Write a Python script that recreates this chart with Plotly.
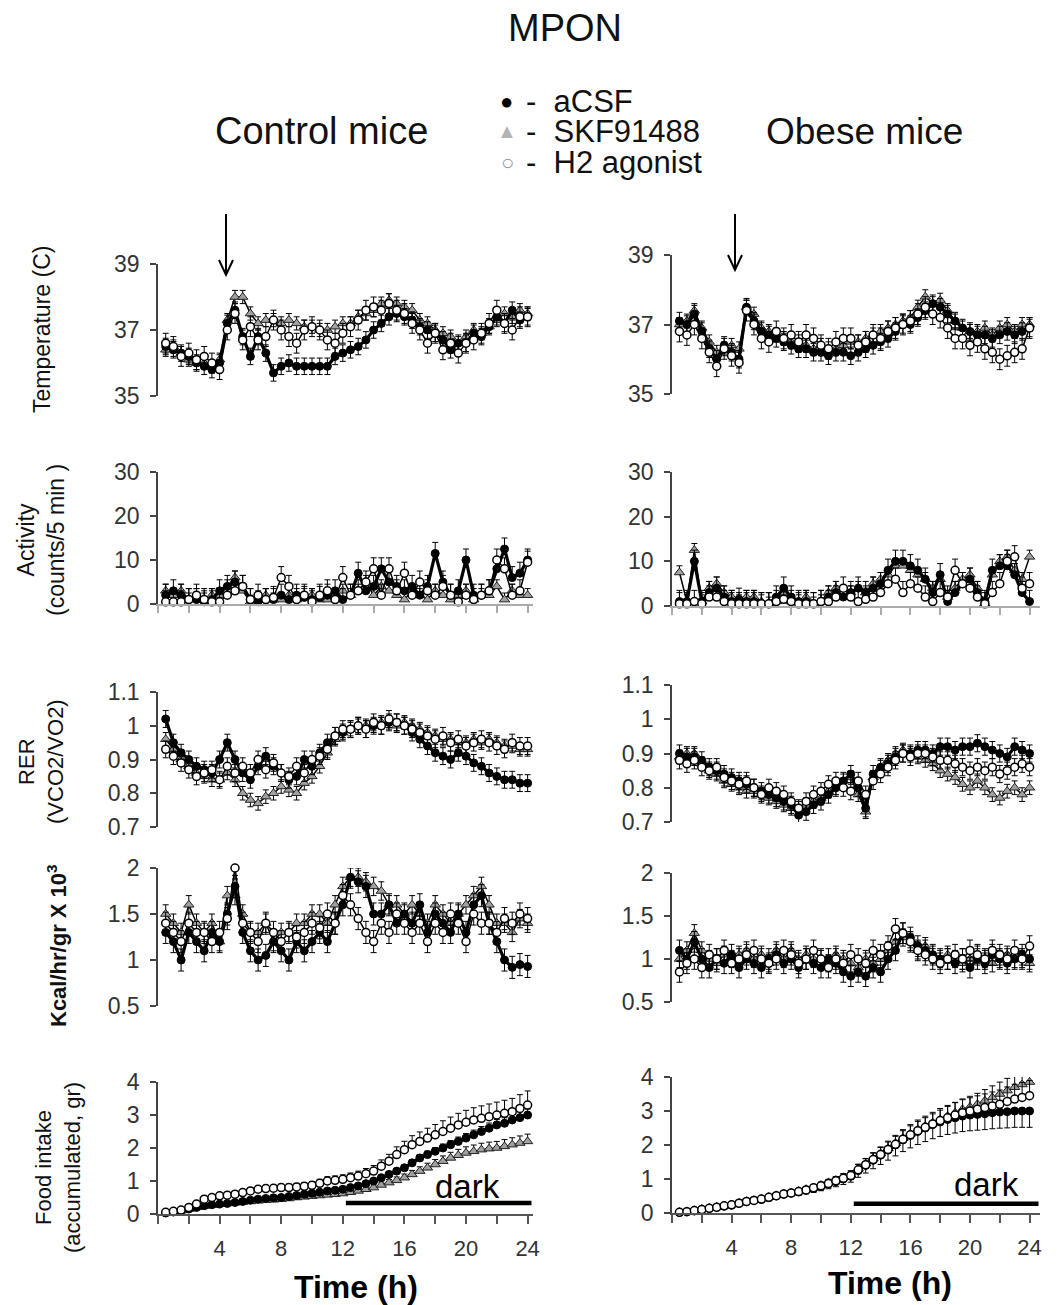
import plotly.graph_objects as go

W, H = 1060, 1305

# ---------------- data ----------------
time_h = [0.5, 1.0, 1.5, 2.0, 2.5, 3.0, 3.5, 4.0,
          4.5, 5.0, 5.5, 6.0, 6.5, 7.0, 7.5, 8.0,
          8.5, 9.0, 9.5, 10.0, 10.5, 11.0, 11.5, 12.0,
          12.5, 13.0, 13.5, 14.0, 14.5, 15.0, 15.5, 16.0,
          16.5, 17.0, 17.5, 18.0, 18.5, 19.0, 19.5, 20.0,
          20.5, 21.0, 21.5, 22.0, 22.5, 23.0, 23.5, 24.0]

series_names = ["aCSF", "SKF91488", "H2 agonist"]
x_tick_vals = [0, 2, 4, 6, 8, 10, 12, 14, 16, 18, 20, 22, 24]
x_tick_labels = ["", "", "4", "", "8", "", "12", "", "16", "", "20", "", "24"]

# Temperature (C)
ctrl_temp_acsf = [36.5, 36.4, 36.3, 36.2, 36.0, 35.9, 35.8, 36.0,
                  37.2, 37.6, 36.8, 36.2, 36.8, 36.3, 35.7, 35.9,
                  36.0, 35.9, 35.9, 35.9, 35.9, 35.9, 36.2, 36.3,
                  36.4, 36.5, 36.7, 37.0, 37.2, 37.4, 37.5, 37.4,
                  37.3, 37.1, 37.0, 36.9, 36.7, 36.4, 36.6, 36.6,
                  36.9, 36.8, 37.1, 37.4, 37.2, 37.6, 37.3, 37.4]
ctrl_temp_skf = [36.4, 36.5, 36.3, 36.1, 36.0, 36.0, 35.9, 36.1,
                 37.3, 38.0, 38.0, 37.5, 37.2, 37.3, 37.3, 37.2,
                 37.3, 37.2, 37.1, 37.1, 37.0, 37.0, 37.1, 37.2,
                 37.2, 37.4, 37.5, 37.6, 37.8, 37.9, 37.8, 37.7,
                 37.6, 37.3, 37.2, 37.0, 36.9, 36.8, 36.6, 36.8,
                 37.0, 36.9, 37.1, 37.3, 37.5, 37.4, 37.6, 37.5]
ctrl_temp_h2 = [36.6, 36.5, 36.2, 36.3, 36.1, 36.2, 36.0, 35.8,
                37.0, 37.5, 36.7, 37.1, 36.7, 36.8, 37.3, 37.0,
                36.8, 36.6, 37.0, 37.1, 37.0, 36.7, 36.6, 36.9,
                37.1, 37.3, 37.6, 37.7, 37.6, 37.8, 37.6, 37.5,
                37.2, 37.0, 36.6, 36.9, 36.4, 36.6, 36.3, 36.6,
                36.7, 36.9, 37.2, 37.6, 37.2, 37.0, 37.4, 37.4]
obese_temp_acsf = [37.1, 37.0, 37.3, 36.8, 36.3, 36.0, 36.4, 36.2,
                   36.0, 37.5, 37.1, 36.8, 36.7, 36.6, 36.5, 36.4,
                   36.3, 36.3, 36.2, 36.2, 36.1, 36.2, 36.2, 36.1,
                   36.2, 36.3, 36.4, 36.5, 36.6, 36.8, 37.0, 37.0,
                   37.2, 37.4, 37.6, 37.5, 37.3, 37.1, 36.9, 36.8,
                   36.7, 36.7, 36.6, 36.7, 36.8, 36.7, 36.8, 36.9]
obese_temp_skf = [37.0, 37.1, 37.4, 36.9, 36.5, 36.2, 36.3, 36.4,
                  36.3, 37.5, 37.3, 36.9, 36.8, 36.7, 36.6, 36.5,
                  36.5, 36.4, 36.3, 36.4, 36.3, 36.3, 36.4, 36.5,
                  36.5, 36.6, 36.7, 36.8, 36.9, 37.0, 37.1, 37.2,
                  37.5, 37.8, 37.6, 37.7, 37.4, 37.1, 36.9, 36.8,
                  36.8, 36.9, 36.7, 36.9, 37.0, 36.8, 37.0, 37.0]
obese_temp_h2 = [36.8, 36.7, 37.0, 36.6, 36.2, 35.8, 36.3, 36.1,
                 35.9, 37.4, 37.0, 36.6, 36.5, 36.8, 36.6, 36.7,
                 36.5, 36.7, 36.6, 36.4, 36.3, 36.5, 36.6, 36.6,
                 36.4, 36.5, 36.7, 36.6, 36.8, 36.9, 37.0, 37.1,
                 37.3, 37.5, 37.3, 37.2, 36.9, 36.6, 36.6, 36.4,
                 36.5, 36.3, 36.2, 36.0, 36.1, 36.2, 36.3, 36.9]

# Activity (counts/5 min)
ctrl_act_acsf = [2, 3, 2, 1, 1, 0.5, 1, 3,
                 4, 5, 4, 1, 0.5, 1, 1, 2,
                 1, 2, 1.5, 1, 1.5, 2, 3, 1,
                 2, 7, 3, 4, 8, 5, 4, 3,
                 4, 2, 4, 11.5, 5, 2, 3, 10,
                 2, 2, 3, 8, 12.5, 6, 7, 10]
ctrl_act_skf = [3, 2, 3, 1, 2, 1, 2, 2,
                4, 6, 3, 0.5, 1, 2, 1, 1,
                2, 1, 2, 2, 1, 1, 2, 3,
                2, 3, 5, 2, 4, 3, 2, 1,
                3, 2, 1, 3, 2, 1, 2, 3,
                1, 2, 2, 4, 1, 3, 2, 2]
ctrl_act_h2 = [0.5, 0.5, 0.5, 1, 2, 1, 0.5, 0.5,
               2, 3, 4, 1, 2, 1, 1.5, 6,
               4, 1, 2, 0.5, 2, 3, 1, 6,
               2, 3, 5, 8, 2, 8, 3, 7,
               2, 5, 3, 2, 4, 2, 0.5, 2,
               1, 2, 3, 10, 8, 2, 3, 9.5]
obese_act_acsf = [1, 1, 10, 1, 3, 4, 2, 1,
                  1.5, 1, 1, 0.5, 0.5, 2, 4, 2,
                  1, 1, 0.5, 1, 2, 3, 2, 3,
                  4, 3, 4, 5, 8, 10, 10, 9,
                  8, 6, 3, 7, 1, 3, 5, 6,
                  3, 1, 8, 9, 9, 7, 3, 1]
obese_act_skf = [7.5, 1, 12.5, 1, 4, 5, 3, 2,
                 1, 2, 2, 1, 0.5, 1, 3, 1,
                 1, 2, 0.5, 1, 3, 4, 2, 3,
                 4, 3, 5, 6, 7, 9, 9, 8,
                 7, 6, 4, 6, 2, 4, 6, 7,
                 4, 0.5, 7, 10, 11, 8, 6, 11]
obese_act_h2 = [0.5, 0.5, 1, 0.5, 2, 2, 1, 0.5,
                0.5, 0.5, 0.5, 0.5, 0.5, 1, 1.5, 1,
                0.5, 0.5, 0.5, 1, 1, 2, 4, 2,
                1, 1.5, 2, 3, 5, 6, 3, 5,
                4, 2, 1, 3, 2, 8, 5, 4,
                2, 0.5, 3, 5, 10, 11, 4, 5]

# RER (VCO2/VO2)
ctrl_rer_acsf = [1.02, 0.95, 0.92, 0.90, 0.88, 0.87, 0.86, 0.90,
                 0.95, 0.90, 0.86, 0.84, 0.88, 0.91, 0.88, 0.86,
                 0.84, 0.85, 0.90, 0.88, 0.92, 0.95, 0.97, 0.98,
                 0.99, 1.00, 0.99, 1.00, 1.00, 1.01, 1.01, 1.00,
                 0.98, 0.96, 0.94, 0.92, 0.91, 0.90, 0.92, 0.91,
                 0.89, 0.88, 0.86, 0.85, 0.84, 0.84, 0.83, 0.83]
ctrl_rer_skf = [0.96, 0.93, 0.90, 0.88, 0.86, 0.85, 0.84, 0.84,
                0.86, 0.84, 0.80, 0.78, 0.77, 0.79, 0.80, 0.82,
                0.81, 0.80, 0.83, 0.85, 0.88, 0.92, 0.96, 0.98,
                0.99, 1.00, 1.00, 1.00, 1.01, 1.01, 1.00, 1.01,
                1.00, 0.99, 0.98, 0.97, 0.96, 0.96, 0.95, 0.95,
                0.96, 0.95, 0.96, 0.95, 0.94, 0.94, 0.93, 0.93]
ctrl_rer_h2 = [0.93, 0.91, 0.89, 0.87, 0.85, 0.86, 0.87, 0.84,
               0.88, 0.86, 0.88, 0.86, 0.90, 0.87, 0.89, 0.86,
               0.85, 0.88, 0.86, 0.90, 0.91, 0.93, 0.97, 0.99,
               0.99, 1.00, 0.99, 1.01, 1.00, 1.02, 1.01, 1.00,
               0.99, 0.98, 0.97, 0.96, 0.97, 0.95, 0.96, 0.94,
               0.95, 0.96, 0.95, 0.94, 0.93, 0.95, 0.94, 0.94]
obese_rer_acsf = [0.90, 0.89, 0.89, 0.88, 0.86, 0.85, 0.84, 0.83,
                  0.82, 0.81, 0.80, 0.79, 0.78, 0.77, 0.76, 0.75,
                  0.72, 0.73, 0.75, 0.76, 0.78, 0.80, 0.82, 0.84,
                  0.80, 0.74, 0.84, 0.86, 0.87, 0.89, 0.90, 0.90,
                  0.91, 0.91, 0.90, 0.92, 0.92, 0.91, 0.92, 0.92,
                  0.93, 0.92, 0.91, 0.90, 0.89, 0.92, 0.91, 0.90]
obese_rer_skf = [0.89, 0.90, 0.90, 0.87, 0.85, 0.84, 0.82, 0.81,
                 0.80, 0.79, 0.79, 0.78, 0.77, 0.76, 0.75, 0.74,
                 0.74, 0.75, 0.76, 0.77, 0.79, 0.80, 0.82, 0.83,
                 0.78, 0.73, 0.83, 0.86, 0.88, 0.90, 0.91, 0.90,
                 0.89, 0.88, 0.87, 0.85, 0.84, 0.83, 0.81, 0.80,
                 0.82, 0.80, 0.78, 0.77, 0.79, 0.80, 0.78, 0.80]
obese_rer_h2 = [0.88, 0.87, 0.88, 0.86, 0.85, 0.86, 0.83, 0.82,
                0.81, 0.82, 0.80, 0.78, 0.80, 0.79, 0.78, 0.76,
                0.74, 0.76, 0.78, 0.79, 0.81, 0.82, 0.80, 0.79,
                0.82, 0.78, 0.82, 0.84, 0.86, 0.88, 0.90, 0.89,
                0.90, 0.90, 0.89, 0.88, 0.88, 0.87, 0.86, 0.85,
                0.86, 0.85, 0.86, 0.84, 0.85, 0.86, 0.87, 0.86]

# Kcal/hr/gr x 10^3
ctrl_kcal_acsf = [1.3, 1.2, 1.0, 1.3, 1.2, 1.1, 1.3, 1.2,
                  1.5, 1.8, 1.3, 1.1, 1.0, 1.05, 1.2, 1.1,
                  1.0, 1.2, 1.1, 1.2, 1.3, 1.2, 1.4, 1.6,
                  1.9, 1.85, 1.8, 1.5, 1.5, 1.6, 1.4, 1.5,
                  1.4, 1.6, 1.3, 1.5, 1.4, 1.3, 1.5, 1.3,
                  1.6, 1.7, 1.4, 1.2, 1.0, 0.92, 0.95, 0.93]
ctrl_kcal_skf = [1.5, 1.4, 1.3, 1.6, 1.4, 1.3, 1.4, 1.2,
                 1.7, 1.7, 1.5, 1.3, 1.3, 1.4, 1.2, 1.3,
                 1.3, 1.4, 1.4, 1.5, 1.5, 1.4, 1.6, 1.8,
                 1.9, 1.9, 1.85, 1.8, 1.75, 1.6, 1.6, 1.5,
                 1.6, 1.5, 1.4, 1.6, 1.5, 1.4, 1.5, 1.6,
                 1.7, 1.8, 1.6, 1.4, 1.4, 1.3, 1.45, 1.4]
ctrl_kcal_h2 = [1.4, 1.3, 1.2, 1.4, 1.3, 1.3, 1.2, 1.3,
                1.45, 2.0, 1.4, 1.3, 1.2, 1.4, 1.3, 1.2,
                1.3, 1.25, 1.3, 1.4, 1.35, 1.5, 1.4, 1.7,
                1.6, 1.45, 1.3, 1.2, 1.4, 1.3, 1.5, 1.4,
                1.3, 1.4, 1.2, 1.4, 1.3, 1.5, 1.4, 1.2,
                1.5, 1.4, 1.4, 1.3, 1.45, 1.4, 1.5, 1.45]
obese_kcal_acsf = [1.1, 1.0, 1.2, 1.0, 0.9, 1.0, 0.95, 1.05,
                   0.9, 1.0, 0.95, 0.9, 1.0, 1.05, 0.95, 1.0,
                   0.9, 1.0, 0.95, 0.9, 1.0, 0.95, 0.85, 0.8,
                   0.85, 0.8, 0.9, 0.85, 1.0, 1.1, 1.3, 1.25,
                   1.15, 1.1, 1.05, 1.0, 1.0, 0.95, 1.0, 0.9,
                   1.0, 0.95, 1.05, 1.0, 0.95, 1.0, 1.05, 1.0]
obese_kcal_skf = [1.0, 1.1, 1.3, 1.1, 1.0, 0.95, 1.05, 1.0,
                  1.05, 1.1, 1.0, 1.05, 0.95, 1.1, 1.0, 1.1,
                  1.0, 1.05, 1.0, 1.0, 0.95, 1.05, 1.0, 0.95,
                  0.9, 1.0, 0.95, 1.0, 1.1, 1.2, 1.25, 1.2,
                  1.1, 1.15, 1.05, 1.0, 1.05, 1.0, 0.95, 1.0,
                  1.05, 1.0, 0.95, 1.0, 1.05, 1.0, 1.0, 0.95]
obese_kcal_h2 = [0.85, 0.95, 1.0, 0.9, 1.05, 1.0, 1.1, 0.95,
                 1.0, 1.05, 1.1, 1.0, 0.95, 1.0, 1.1, 1.05,
                 0.95, 1.0, 1.1, 1.0, 0.9, 1.0, 0.95, 1.05,
                 1.0, 0.95, 1.1, 1.05, 1.15, 1.35, 1.3, 1.2,
                 1.1, 1.05, 1.0, 0.95, 1.0, 1.05, 1.0, 1.1,
                 1.05, 1.0, 1.1, 1.05, 1.0, 1.1, 1.0, 1.15]

# Food intake (accumulated, gr)
ctrl_food_acsf = [0.03, 0.06, 0.1, 0.15, 0.2, 0.25, 0.28, 0.3,
                  0.32, 0.35, 0.38, 0.42, 0.45, 0.47, 0.49, 0.5,
                  0.53, 0.56, 0.6, 0.63, 0.66, 0.7, 0.72, 0.75,
                  0.8, 0.85, 0.92, 1.0, 1.1, 1.2, 1.3, 1.4,
                  1.55, 1.7, 1.8, 1.9, 2.0, 2.1, 2.2, 2.3,
                  2.4, 2.5, 2.6, 2.7, 2.75, 2.85, 2.92, 3.0]
ctrl_food_skf = [0.04, 0.07, 0.1, 0.15, 0.2, 0.24, 0.27, 0.3,
                 0.32, 0.34, 0.36, 0.38, 0.4, 0.42, 0.43, 0.45,
                 0.47, 0.5, 0.52, 0.54, 0.56, 0.58, 0.6, 0.62,
                 0.66, 0.7, 0.75, 0.8, 0.88, 0.95, 1.02, 1.1,
                 1.2, 1.3, 1.4, 1.5, 1.6, 1.7, 1.78, 1.85,
                 1.9, 1.95, 1.98, 2.0, 2.05, 2.1, 2.15, 2.2]
ctrl_food_h2 = [0.05, 0.08, 0.12, 0.2, 0.3, 0.45, 0.5, 0.55,
                0.57, 0.6, 0.65, 0.7, 0.75, 0.77, 0.78, 0.8,
                0.8, 0.82, 0.84, 0.87, 0.93, 1.0, 1.02, 1.05,
                1.1, 1.15, 1.22, 1.3, 1.45, 1.6, 1.8, 1.95,
                2.1, 2.2, 2.3, 2.4, 2.5, 2.6, 2.7, 2.78,
                2.85, 2.9, 2.95, 3.0, 3.05, 3.1, 3.2, 3.3]
obese_food_acsf = [0.02, 0.04, 0.06, 0.1, 0.13, 0.16, 0.2, 0.23,
                   0.28, 0.33, 0.37, 0.4, 0.45, 0.5, 0.55, 0.58,
                   0.62, 0.67, 0.72, 0.78, 0.85, 0.92, 1.0, 1.08,
                   1.25, 1.4, 1.55, 1.7, 1.85, 2.0, 2.15, 2.28,
                   2.4, 2.5, 2.6, 2.68, 2.75, 2.8, 2.85, 2.88,
                   2.9, 2.92, 2.95, 2.97, 2.98, 3.0, 3.0, 3.0]
obese_food_skf = [0.03, 0.05, 0.08, 0.12, 0.15, 0.18, 0.22, 0.25,
                  0.3, 0.35, 0.38, 0.42, 0.47, 0.52, 0.57, 0.6,
                  0.65, 0.7, 0.75, 0.82, 0.9, 0.97, 1.05, 1.12,
                  1.3, 1.45, 1.6, 1.75, 1.9, 2.05, 2.2, 2.33,
                  2.45, 2.55, 2.65, 2.75, 2.85, 2.95, 3.05, 3.12,
                  3.2, 3.3, 3.4, 3.5, 3.6, 3.7, 3.78, 3.85]
obese_food_h2 = [0.02, 0.04, 0.07, 0.1, 0.14, 0.17, 0.21, 0.24,
                 0.29, 0.34, 0.37, 0.41, 0.46, 0.51, 0.56, 0.59,
                 0.63, 0.68, 0.74, 0.8, 0.87, 0.95, 1.02, 1.1,
                 1.27, 1.42, 1.57, 1.72, 1.87, 2.02, 2.17, 2.3,
                 2.42, 2.52, 2.62, 2.72, 2.8, 2.88, 2.95, 3.0,
                 3.05, 3.1, 3.15, 3.2, 3.28, 3.35, 3.4, 3.45]

# ---------------- layout helpers ----------------
def fx(px):
    return px / W

def fy(py):
    return 1 - py / H

cols = {
    "L": dict(x0=158, x1=533, xmax=24.35, dark_x=20.1, bar_y=0.33),
    "R": dict(x0=672, x1=1040, xmax=24.7, dark_x=21.1, bar_y=0.27),
}

panels = [
    ("L", "temp", [ctrl_temp_acsf, ctrl_temp_skf, ctrl_temp_h2], 264, 396),
    ("R", "temp", [obese_temp_acsf, obese_temp_skf, obese_temp_h2], 255, 394),
    ("L", "act", [ctrl_act_acsf, ctrl_act_skf, ctrl_act_h2], 472, 604),
    ("R", "act", [obese_act_acsf, obese_act_skf, obese_act_h2], 472, 606),
    ("L", "rer", [ctrl_rer_acsf, ctrl_rer_skf, ctrl_rer_h2], 692, 827),
    ("R", "rer", [obese_rer_acsf, obese_rer_skf, obese_rer_h2], 685, 822),
    ("L", "kcal", [ctrl_kcal_acsf, ctrl_kcal_skf, ctrl_kcal_h2], 868, 1006),
    ("R", "kcal", [obese_kcal_acsf, obese_kcal_skf, obese_kcal_h2], 873, 1002),
    ("L", "food", [ctrl_food_acsf, ctrl_food_skf, ctrl_food_h2], 1082, 1214),
    ("R", "food", [obese_food_acsf, obese_food_skf, obese_food_h2], 1077, 1213),
]

kind_axis = {
    "temp": dict(range=[35, 39], tickvals=[35, 37, 39], ticktext=["35", "37", "39"]),
    "act": dict(range=[0, 30], tickvals=[0, 10, 20, 30], ticktext=["0", "10", "20", "30"]),
    "rer": dict(range=[0.7, 1.1], tickvals=[0.7, 0.8, 0.9, 1.0, 1.1],
                ticktext=["0.7", "0.8", "0.9", "1", "1.1"]),
    "kcal": dict(range=[0.5, 2], tickvals=[0.5, 1, 1.5, 2], ticktext=["0.5", "1", "1.5", "2"]),
    "food": dict(range=[0, 4], tickvals=[0, 1, 2, 3, 4], ticktext=["0", "1", "2", "3", "4"]),
}

def err_style(kind, col, s):
    base = dict(color="black", thickness=1, width=3, visible=True)
    if kind == "temp":
        base.update(type="constant", value=[0.25, 0.2, 0.3][s])
    elif kind == "act":
        base.update(type="constant", value=[2.5, 1.5, 2.5][s], symmetric=False, valueminus=0)
    elif kind == "rer":
        base.update(type="constant", value=[0.025, 0.02, 0.025][s])
    elif kind == "kcal":
        base.update(type="constant", value=[0.12, 0.1, 0.12][s])
    else:
        if col == "R" and s == 0:
            base.update(type="percent", value=0, symmetric=False, valueminus=16)
        else:
            base.update(type="percent", value=[6, 10, 13][s], symmetric=False, valueminus=0)
    return base

styles = [
    dict(marker=dict(symbol="circle", size=8, color="black", line=dict(color="black", width=1)),
         line=dict(color="black", width=3.2)),
    dict(marker=dict(symbol="triangle-up", size=9, color="#a0a0a0", line=dict(color="#222", width=1)),
         line=dict(color="black", width=1.5)),
    dict(marker=dict(symbol="circle", size=8, color="white", line=dict(color="black", width=1.5)),
         line=dict(color="black", width=1.5)),
]

fig = go.Figure()
layout = dict(
    width=W, height=H,
    margin=dict(l=0, r=0, t=0, b=0, autoexpand=False),
    paper_bgcolor="white", plot_bgcolor="rgba(0,0,0,0)",
    showlegend=False,
    font=dict(family="Liberation Sans, Arial, sans-serif", color="#222"),
)
shapes = []
annotations = []

draw_order = [1, 0, 2]
for i, (col, kind, data, ptop, pbot) in enumerate(panels, start=1):
    c = cols[col]
    xa = "xaxis" if i == 1 else f"xaxis{i}"
    ya = "yaxis" if i == 1 else f"yaxis{i}"
    xr = "x" if i == 1 else f"x{i}"
    yr = "y" if i == 1 else f"y{i}"
    for s in draw_order:
        st = styles[s]
        fig.add_trace(go.Scatter(
            x=time_h, y=data[s], name=series_names[s], mode="lines+markers",
            xaxis=xr, yaxis=yr, marker=st["marker"], line=st["line"],
            error_y=err_style(kind, col, s), cliponaxis=False,
        ))
    ka = kind_axis[kind]
    layout[ya] = dict(
        domain=[fy(pbot), fy(ptop)], anchor=xr, range=ka["range"],
        tickvals=ka["tickvals"], ticktext=ka["ticktext"],
        showline=True, linecolor="#444", linewidth=1.5,
        ticks="outside", ticklen=6, tickwidth=1.5, tickcolor="#444",
        tickfont=dict(size=23, color="#333"), ticklabelstandoff=6,
        showgrid=False, zeroline=False, automargin=False,
    )
    xdef = dict(domain=[fx(c["x0"]), fx(c["x1"])], anchor=yr, range=[0, c["xmax"]],
                showgrid=False, zeroline=False, automargin=False)
    if kind == "act":
        xdef.update(showline=True, linecolor="#aaa", linewidth=1.5, ticks="outside",
                    tickvals=x_tick_vals, ticklen=7, tickcolor="#aaa", tickwidth=1.5,
                    showticklabels=False)
    elif kind == "food":
        xdef.update(showline=True, linecolor="#555", linewidth=2, ticks="outside",
                    tickvals=x_tick_vals, ticktext=x_tick_labels, ticklen=8,
                    tickcolor="#555", tickwidth=1.5,
                    tickfont=dict(size=22, color="#333"), ticklabelstandoff=6)
        shapes.append(dict(type="line", xref=xr, yref=yr, x0=12.2, x1=c["xmax"] - 0.1,
                           y0=c["bar_y"], y1=c["bar_y"], line=dict(color="black", width=4.5)))
        annotations.append(dict(xref=xr, yref=yr, x=c["dark_x"], y=0.84,
                                xanchor="center", yanchor="middle",
                                text="dark", showarrow=False,
                                font=dict(size=33, color="black")))
    else:
        xdef.update(visible=False)
    layout[xa] = xdef

# ---------------- titles, legend, axis labels ----------------
def ann_px(x, y, text, size, **kw):
    d = dict(xref="paper", yref="paper", x=fx(x), y=fy(y), text=text, showarrow=False,
             xanchor="center", yanchor="middle",
             font=dict(size=size, color=kw.pop("color", "#111")))
    d.update(kw)
    annotations.append(d)

ann_px(565, 28, "MPON", 38)
ann_px(321, 131, "Control mice", 38)
ann_px(864, 131, "Obese mice", 37)

# legend
ann_px(506, 101, "●", 22, color="black")
ann_px(507, 131, "▲", 20, color="#b4b4b4")
ann_px(507, 162, "○", 22, color="#999")
ann_px(524, 101, "-  aCSF", 31, xanchor="left")
ann_px(524, 131, "-  SKF91488", 31, xanchor="left")
ann_px(524, 162, "-  H2 agonist", 31, xanchor="left")

# y-axis titles (left column only)
ann_px(42, 330, "Temperature (C)", 23, textangle=-90)
ann_px(41, 540, "Activity<br>(counts/5 min )", 23, textangle=-90)
ann_px(41, 762, "RER<br>(VCO2/VO2)", 22, textangle=-90)
ann_px(57, 946, "<b>Kcal/hr/gr X 10<sup>3</sup></b>", 22, textangle=-90)
ann_px(58, 1168, "Food intake<br>(accumulated, gr)", 22, textangle=-90)

# x-axis titles
ann_px(356, 1287, "<b>Time (h)</b>", 32, color="black")
ann_px(890, 1283, "<b>Time (h)</b>", 32, color="black")

# injection arrows
for ax_x, top, tip in [(226, 214, 275), (735, 214, 270)]:
    path = (f"M {fx(ax_x)} {fy(top)} L {fx(ax_x)} {fy(tip)} "
            f"M {fx(ax_x - 7)} {fy(tip - 15)} L {fx(ax_x)} {fy(tip)} L {fx(ax_x + 7)} {fy(tip - 15)}")
    shapes.append(dict(type="path", xref="paper", yref="paper", path=path,
                       line=dict(color="black", width=2)))

layout["shapes"] = shapes
layout["annotations"] = annotations
fig.update_layout(**layout)

fig.write_html("out.html", config={"displayModeBar": False},
               post_script="document.body.style.margin='0px';")
